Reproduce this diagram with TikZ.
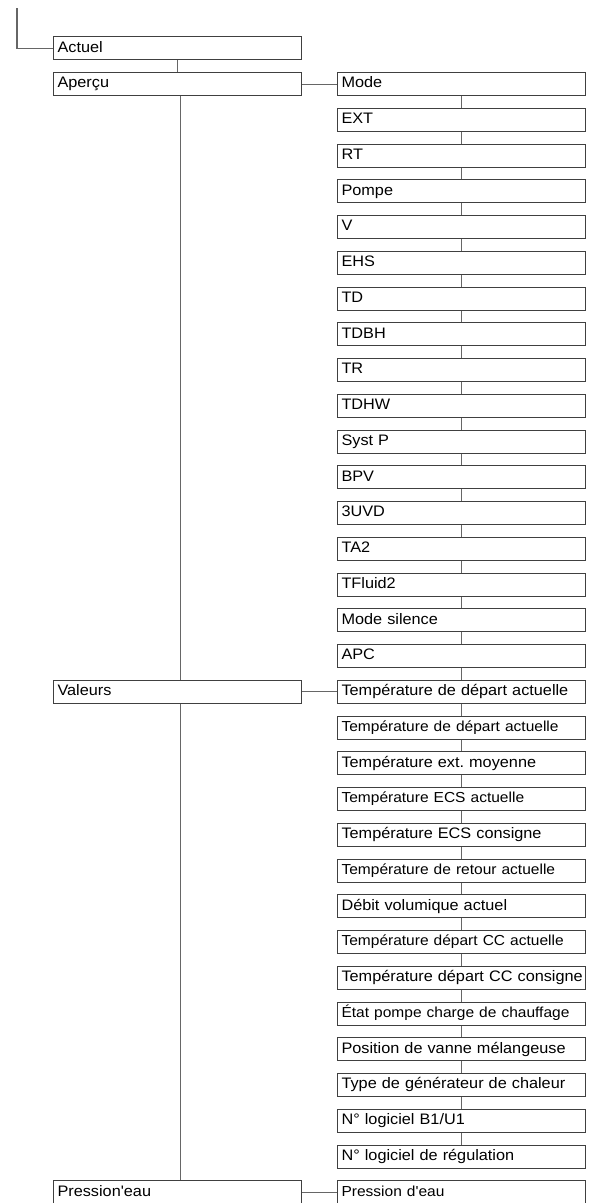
\documentclass[tikz,border=0pt]{standalone}
\usepackage{fontspec}
\setmainfont{Liberation Sans}[FakeStretch=1.07,Ligatures=TeXOff]
\newcommand\smalltxt{\fontsize{14.5}{16}\selectfont}
\frenchspacing
\tikzset{
	menubox/.style={draw=black!75, line width=1.1pt, fill=white, anchor=north west, text width=240pt, align=left,
		inner sep=0pt, inner xsep=4pt, text height=15.3pt, text depth=7.7pt, font=\fontsize{15.2}{18}\selectfont},
	link/.style={draw=black!60, line width=1.1pt}
}
\begin{document}
\begin{tikzpicture}[x=1pt,y=-1pt]
	\useasboundingbox (0,0) rectangle (593,1203);
	\node[menubox] (actuel) at (53,36.25) {Actuel};
	\node[menubox] (apercu) at (53,72) {Aperçu};
	\node[menubox] (valeurs) at (53,{72+17*35.75}) {Valeurs};
	\node[menubox] (pression) at (53,{72+31*35.75}) {Pression'eau};
	\foreach \txt [count=\i from 0] in {Mode,EXT,RT,Pompe,V,EHS,TD,TDBH,TR,TDHW,Syst P,BPV,3UVD,TA2,TFluid2,Mode silence,APC,
		Température de départ actuelle,{\smalltxt Température de départ actuelle},Température ext. moyenne,
		{\smalltxt Température ECS actuelle},Température ECS consigne,{\smalltxt Température de retour actuelle},
		Débit volumique actuel,{\smalltxt Température départ CC actuelle},Température départ CC consigne,
		{\smalltxt État pompe charge de chauffage},Position de vanne mélangeuse,Type de générateur de chaleur,
		N° logiciel B1/U1,N° logiciel de régulation,{\smalltxt Pression d'eau}}
		\node[menubox] (r\i) at (337,{72+\i*35.75}) {\mbox{\txt}};
	\foreach \i [evaluate=\i as \j using int(\i+1)] in {0,...,29}
		\draw[link] (r\i.south) -- (r\j.north);
	\draw[link] (actuel.south) -- (apercu.north);
	\draw[link] ([xshift=3pt]apercu.south) -- ([xshift=3pt]valeurs.north);
	\draw[link] ([xshift=3pt]valeurs.south) -- ([xshift=3pt]pression.north);
	\draw[link] (apercu.east) -- (r0.west);
	\draw[link] (valeurs.east) -- (r17.west);
	\draw[link] (pression.east) -- (r31.west);
	\coordinate (start) at (17,8);
	\draw[link] (start) |- (actuel.west);
\end{tikzpicture}
\end{document}
